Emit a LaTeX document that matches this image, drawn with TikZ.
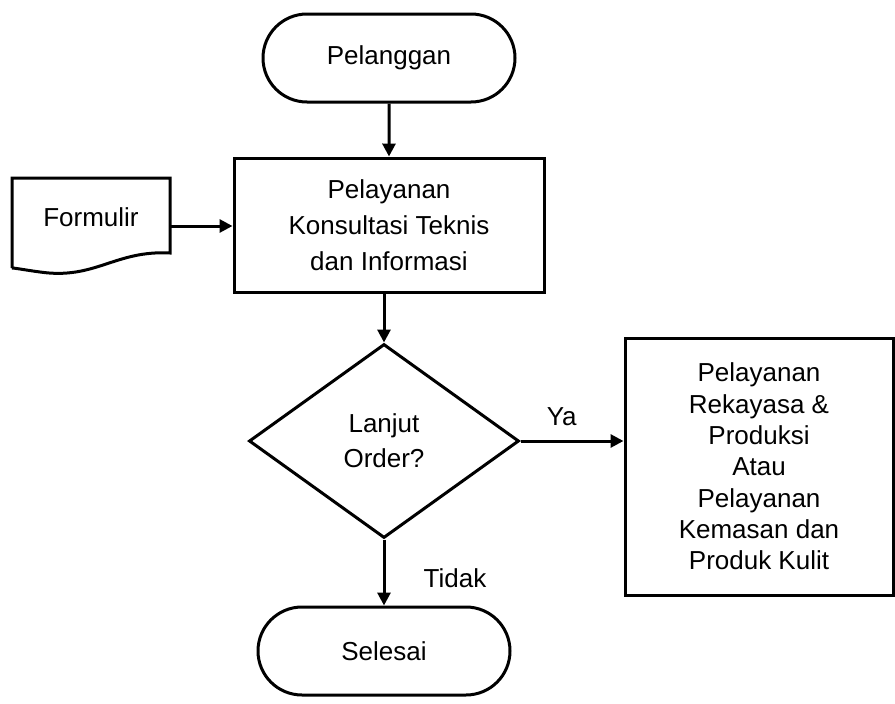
\documentclass[tikz,border=0pt]{standalone}
\usepackage{fontspec}
\setmainfont{Liberation Sans}
\usetikzlibrary{shapes.geometric,shapes.misc,arrows.meta}
\begin{document}
\begin{tikzpicture}[x=1pt,y=-1pt,
  every node/.style={font=\fontsize{26}{34}\selectfont},
  ln/.style={line width=3pt},
  arr/.style={ln, -{Triangle[length=13pt,width=13pt]}},
  term/.style={rounded rectangle, draw, ln, minimum width=252pt, minimum height=88pt, inner sep=0pt},
  proc/.style={rectangle, draw, ln, align=center, inner sep=0pt},
  dec/.style={diamond, draw, ln, align=center, inner sep=0pt, aspect=1.39, minimum width=270pt, minimum height=194pt}]
\useasboundingbox (0,0) rectangle (895,704);

\node[term] (start) at (389,58) {Pelanggan};
\node[proc, minimum width=310pt, minimum height=134pt, font=\fontsize{26}{36}\selectfont] (main) at (389,225) {Pelayanan\\Konsultasi  Teknis\\dan Informasi};
\node[dec, font=\fontsize{26}{35}\selectfont] (dia) at (384,441) {Lanjut\\Order?};
\node[proc, minimum width=268pt, minimum height=257pt, font=\fontsize{26}{31.3}\selectfont] (right) at (759,466.5) {Pelayanan\\Rekayasa \&\\Produksi\\Atau\\Pelayanan\\Kemasan dan\\Produk Kulit};
\node[term] (end) at (384,651) {Selesai};

% document shape
\node[minimum width=158pt, minimum height=75pt, inner sep=0pt] (doc) at (91,217) {Formulir};
\draw[ln] (12,268) -- (12,178) -- (170,178) -- (170,253)
  .. controls (115,250) and (95,280) .. (40,272)
  .. controls (25,270) and (15,268) .. (12,268);
\coordinate (docout) at (170,226);

\draw[arr] (start) -- (main);
\draw[arr] (docout) -- (docout -| main.west);
\draw[arr] (main.south -| dia.north) -- (dia.north);
\draw[arr] (dia.east) -- (dia.east -| right.west) node[pos=0.4, above=10pt] (ya) {Ya};
\draw[arr] (dia.south) -- (end.north) ;
\node (tidak) at (455,578) {Tidak};
\end{tikzpicture}
\end{document}
